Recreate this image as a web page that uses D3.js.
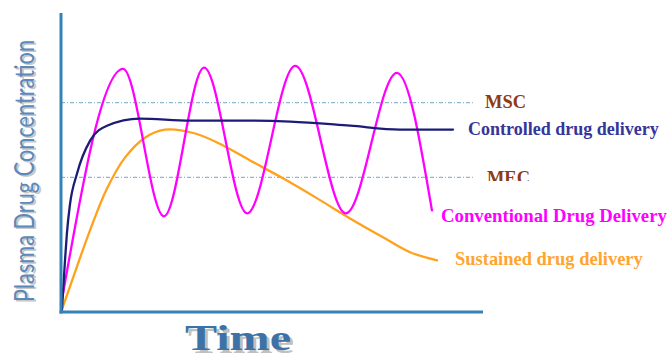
<!DOCTYPE html>
<html>
<head>
<meta charset="utf-8">
<script src="https://cdn.jsdelivr.net/npm/d3@7"></script>
<style>
  html, body { margin: 0; padding: 0; background: #fff; }
  svg { display: block; }
</style>
</head>
<body>
<svg id="chart" width="668" height="354"></svg>
<script>
// Time axis runs 0–100 (arbitrary units), concentration 0–100 (arbitrary units)
const conventionalTime  = [0, 14.7, 24.4, 33.9, 44.1, 55.5, 67.5, 79.6, 87.9];
const conventionalLevel = [2.3, 81.3, 32, 81.7, 33, 82.3, 33, 80, 34];

const controlledTime  = [0.2, 0.95, 1.4, 2.1, 3.8, 6.9, 10.9, 18.7, 30.6, 44.8, 54.3, 68.5, 80.3, 92.9];
const controlledLevel = [0.3, 17.3, 26.3, 35.7, 46.3, 57.3, 62.3, 64.7, 64, 64, 63.7, 62.3, 61, 61];

const sustainedTime  = [0, 3.32, 6.87, 10.9, 15.2, 19.9, 24.6, 31.8, 38.4, 44.8, 52.6, 60.7, 68.5, 76.3, 82.7, 89.1];
const sustainedLevel = [0, 13.3, 27.3, 41.3, 51.7, 58.3, 61, 59.7, 55.7, 50.7, 44.7, 38, 31.3, 25, 20, 17.3];

const thresholdNames  = ["MSC", "MEC"];
const thresholdLevels = [70, 45];

const seriesNames = ["Controlled drug delivery", "Conventional Drug Delivery", "Sustained drug delivery"];

const svg = d3.select("#chart");

const x = d3.scaleLinear().domain([0, 100]).range([61, 483]);
const y = d3.scaleLinear().domain([0, 100]).range([312, 13]);

const zip = (a, b) => a.map((v, i) => [v, b[i]]);
const lineWith = curve => d3.line().x(d => x(d[0])).y(d => y(d[1])).curve(curve);

// Threshold reference lines (dash-dot)
svg.append("g").selectAll("line")
  .data(thresholdLevels)
  .join("line")
  .attr("x1", x(0)).attr("x2", x(97.6))
  .attr("y1", d => y(d)).attr("y2", d => y(d))
  .attr("stroke", "#8fb6cf")
  .attr("stroke-width", 1.2)
  .attr("stroke-dasharray", "4,2,1,2");

// Curves
const curves = [
  { pts: zip(sustainedTime, sustainedLevel), color: "#ffa11c", curve: d3.curveCatmullRom.alpha(0.5) },
  { pts: zip(conventionalTime, conventionalLevel), color: "#ff00ff", curve: d3.curveMonotoneX },
  { pts: zip(controlledTime, controlledLevel), color: "#1c1c78", curve: d3.curveMonotoneX }
];
svg.append("g").selectAll("path")
  .data(curves)
  .join("path")
  .attr("d", d => lineWith(d.curve)(d.pts))
  .attr("fill", "none")
  .attr("stroke", d => d.color)
  .attr("stroke-width", 2.3)
  .attr("stroke-linecap", "round");

// Axes: plain lines without ticks
const axisColor = "#3583b5";
svg.append("line")
  .attr("x1", x(0)).attr("x2", x(0))
  .attr("y1", y(0) + 1.5).attr("y2", y(100))
  .attr("stroke", axisColor).attr("stroke-width", 3);
svg.append("line")
  .attr("x1", x(0) - 1.5).attr("x2", x(100))
  .attr("y1", y(0)).attr("y2", y(0))
  .attr("stroke", axisColor).attr("stroke-width", 3);

// Fit a text element to a target width by scaling its font size
function fitWidth(sel, target) {
  const n = sel.node();
  const w = n.getComputedTextLength();
  const fs = parseFloat(sel.attr("font-size"));
  sel.attr("font-size", fs * target / w);
}

const serif = "'Liberation Serif', 'Times New Roman', serif";

// Threshold labels
const clip = svg.append("defs").append("clipPath").attr("id", "mecClip");
clip.append("rect").attr("x", 0).attr("y", 0).attr("width", 668).attr("height", 181);

const labelSpecs = [
  { text: thresholdNames[0], x: 485, y: 108, w: 41, color: "#8e3a14", clip: false },
  { text: thresholdNames[1], x: 487, y: 184, w: 43, color: "#8e3a14", clip: true },
  { text: seriesNames[0], x: 468, y: 135, w: 191, color: "#35359a", clip: false },
  { text: seriesNames[1], x: 441, y: 222, w: 226, color: "#ff00ff", clip: false },
  { text: seriesNames[2], x: 455, y: 265, w: 188, color: "#ffa431", clip: false }
];
labelSpecs.forEach(s => {
  const t = svg.append("text")
    .attr("x", s.x).attr("y", s.y)
    .attr("font-family", serif)
    .attr("font-weight", "bold")
    .attr("font-size", 15)
    .attr("fill", s.color)
    .text(s.text);
  if (s.clip) t.attr("clip-path", "url(#mecClip)");
  fitWidth(t, s.w);
});

// Y axis title with soft shadow
const yTitle = "Plasma Drug Concentration";
[["#c8c8c8", 2, 1.5], ["#5b89bb", 0, 0]].forEach(([c, dx, dy]) => {
  svg.append("text")
    .attr("transform", `translate(${34 + dx},${171 + dy}) rotate(-90)`)
    .attr("text-anchor", "middle")
    .attr("font-family", "Lato, 'Open Sans', sans-serif")
    .attr("font-size", 26)
    .attr("textLength", 262)
    .attr("lengthAdjust", "spacingAndGlyphs")
    .attr("fill", c)
    .text(yTitle);
});

// X axis title with shadow
[["#c0c0c0", 3, 3], ["#3d72a8", 0, 0]].forEach(([c, dx, dy]) => {
  svg.append("text")
    .attr("x", 185 + dx).attr("y", 350 + dy)
    .attr("font-family", serif)
    .attr("font-weight", "bold")
    .attr("font-size", 35)
    .attr("textLength", 106)
    .attr("lengthAdjust", "spacingAndGlyphs")
    .attr("fill", c)
    .text("Time");
});
</script>
</body>
</html>
